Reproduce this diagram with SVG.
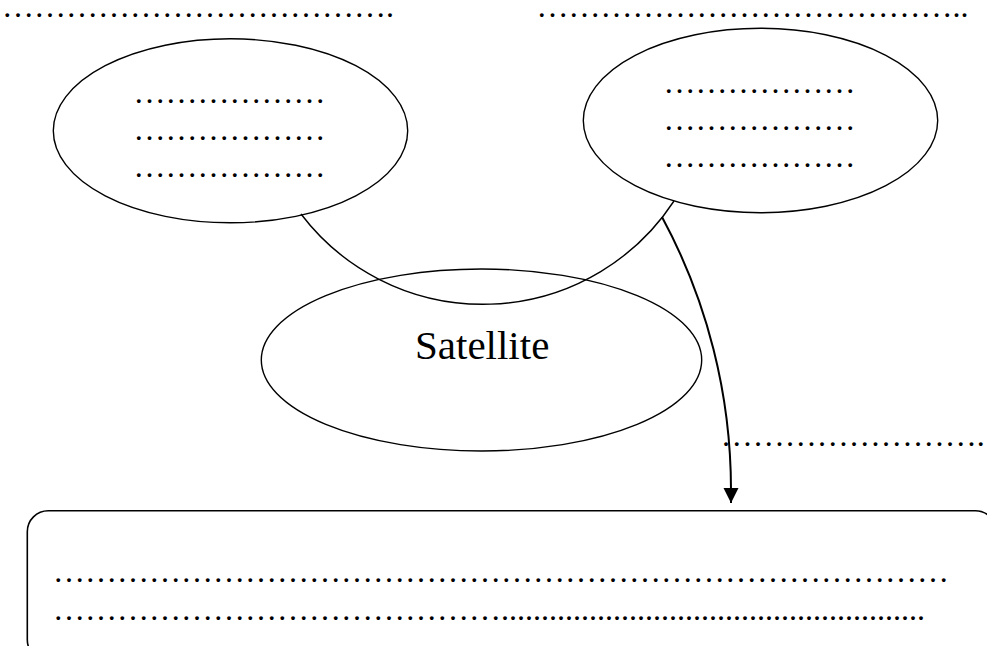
<svg xmlns="http://www.w3.org/2000/svg" width="987" height="646" viewBox="0 0 987 646">
  <defs>
    <style>
      .shape { fill: none; stroke: #000; stroke-width: 1.4; }
      .dots { font-family: "Liberation Serif", "Times New Roman", serif; font-size: 32px; fill: #000; }
      .label { font-family: "Liberation Serif", "Times New Roman", serif; font-size: 41px; fill: #000; }
      .conn { fill: none; stroke: #000; stroke-width: 1.4; }
    </style>
    <marker id="arrow" markerWidth="16" markerHeight="16" viewBox="0 0 16 16" refX="15" refY="8" orient="auto" markerUnits="userSpaceOnUse">
      <path d="M0,0.5 L15,8 L0,15.5 Z" fill="#000"/>
    </marker>
  </defs>
  <rect width="987" height="646" fill="#fff"/>

  <g id="title-left">
    <text class="dots" x="2" y="17.3"><tspan>…</tspan><tspan>…</tspan><tspan>…</tspan><tspan>…</tspan><tspan>…</tspan><tspan>…</tspan><tspan>…</tspan><tspan>…</tspan><tspan>…</tspan><tspan>…</tspan><tspan>…</tspan><tspan>…</tspan><tspan>.</tspan></text>
  </g>
  <g id="title-right">
    <text class="dots" x="536.4" y="17.3"><tspan>…</tspan><tspan>…</tspan><tspan>…</tspan><tspan>…</tspan><tspan>…</tspan><tspan>…</tspan><tspan>…</tspan><tspan>…</tspan><tspan>…</tspan><tspan>…</tspan><tspan>…</tspan><tspan>…</tspan><tspan>…</tspan><tspan>.</tspan><tspan>.</tspan></text>
  </g>

  <g id="node-left">
    <ellipse class="shape" cx="230.5" cy="130.8" rx="177.2" ry="92"/>
    <text class="dots" x="133.4" y="102.9">………………</text>
    <text class="dots" x="133.4" y="139.9">………………</text>
    <text class="dots" x="133.4" y="176.9">………………</text>
  </g>

  <g id="node-right">
    <ellipse class="shape" cx="760.5" cy="120.5" rx="177.2" ry="92.2"/>
    <text class="dots" x="663.4" y="92.9">………………</text>
    <text class="dots" x="663.4" y="129.9">………………</text>
    <text class="dots" x="663.4" y="166.9">………………</text>
  </g>

  <g id="node-satellite">
    <ellipse class="shape" cx="481.5" cy="360" rx="220.2" ry="91"/>
    <text class="label" x="415" y="358.8">Satellite</text>
  </g>

  <g id="label-arrow">
    <text class="dots" x="720.7" y="445.6"><tspan>…</tspan><tspan>…</tspan><tspan>…</tspan><tspan>…</tspan><tspan>…</tspan><tspan>…</tspan><tspan>…</tspan><tspan>…</tspan><tspan>.</tspan></text>
  </g>

  <g id="node-box">
    <rect class="shape" x="27.3" y="510.7" width="969" height="150" rx="21" ry="21" style="stroke-width:1.6"/>
    <text class="dots" x="53" y="581.9"><tspan>…</tspan><tspan>…</tspan><tspan>…</tspan><tspan>…</tspan><tspan>…</tspan><tspan>…</tspan><tspan>…</tspan><tspan>…</tspan><tspan>…</tspan><tspan>…</tspan><tspan>…</tspan><tspan>…</tspan><tspan>…</tspan><tspan>…</tspan><tspan>…</tspan><tspan>…</tspan><tspan>…</tspan><tspan>…</tspan><tspan>…</tspan><tspan>…</tspan><tspan>…</tspan><tspan>…</tspan><tspan>…</tspan><tspan>…</tspan><tspan>…</tspan><tspan>…</tspan><tspan>…</tspan><tspan>…</tspan></text>
    <text class="dots" x="53" y="619.9"><tspan>…</tspan><tspan>…</tspan><tspan>…</tspan><tspan>…</tspan><tspan>…</tspan><tspan>…</tspan><tspan>…</tspan><tspan>…</tspan><tspan>…</tspan><tspan>…</tspan><tspan>…</tspan><tspan>…</tspan><tspan>…</tspan><tspan>…</tspan><tspan>.....</tspan><tspan>.....</tspan><tspan>.....</tspan><tspan>.....</tspan><tspan>.....</tspan><tspan>.....</tspan><tspan>.....</tspan><tspan>.....</tspan><tspan>.....</tspan><tspan>.....</tspan><tspan>...</tspan></text>
  </g>

  <g id="connectors">
    <path class="conn" d="M301,214 A228.4,228.4 0 0 0 674,201"/>
    <path class="conn" d="M662,217 A574.6,574.6 0 0 1 731,490 L731,503" style="stroke-width:2" marker-end="url(#arrow)"/>
  </g>
</svg>
